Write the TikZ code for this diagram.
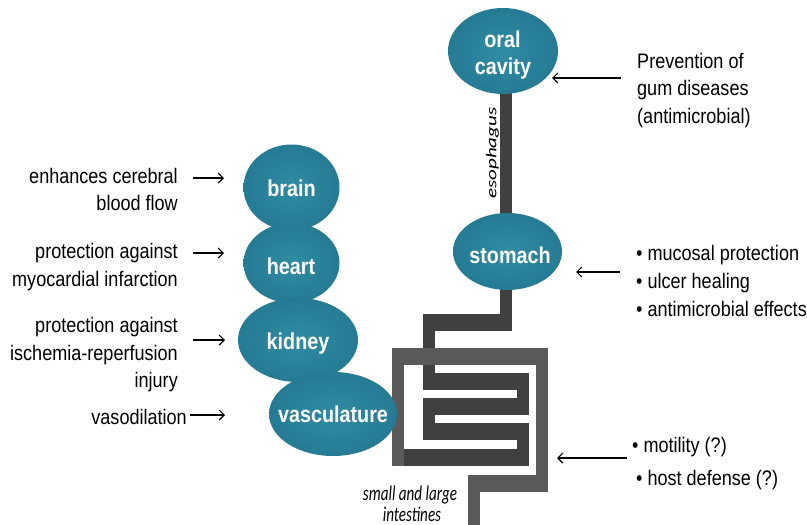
\documentclass[tikz,border=0pt]{standalone}
\usepackage{fontspec}
\usetikzlibrary{arrows.meta,shapes.geometric}
\setmainfont{Liberation Sans}
\newfontfamily\labfont{Liberation Sans}[FakeStretch=0.86]
\newfontfamily\calnar{Carlito}[FakeStretch=0.72]
\newfontfamily\calwide{Carlito}[FakeStretch=1.4]
\definecolor{orgA}{HTML}{2F8CA3}
\definecolor{orgB}{HTML}{257A92}
\definecolor{orgC}{HTML}{1D667B}
\definecolor{orgD}{HTML}{164E5F}
\definecolor{tubedark}{HTML}{404040}
\definecolor{tubegrey}{HTML}{5A5A5A}
\pgfdeclareradialshading{organshade}{\pgfpoint{0bp}{0bp}}{color(0bp)=(orgA); color(26bp)=(orgB); color(42bp)=(orgC); color(50bp)=(orgD); color(72bp)=(orgD)}
\begin{document}
\begin{tikzpicture}[x=1pt,y=-1pt,
  organ/.style={ellipse, shade, shading=organshade, inner sep=0pt, draw=none},
  orgtext/.style={text=white, font=\labfont\bfseries\fontsize{23}{30}\selectfont, inner sep=0pt, anchor=base},
  lableft/.style={font=\labfont\fontsize{21}{28}\selectfont, inner sep=0pt, anchor=base east},
  labright/.style={font=\labfont\fontsize{21}{28}\selectfont, inner sep=0pt, anchor=base west},
  arr/.style={-{Straight Barb[length=5pt,width=10pt]}, line width=1.2pt},
]
\useasboundingbox (0,0) rectangle (807,525);

% ---- digestive tube (dark) ----
\fill[tubedark] (500,90) rectangle (512,225);
\fill[tubedark] (500,280) rectangle (512,331);
\fill[tubedark] (423,314) rectangle (512,331);
\fill[tubedark] (423,314) rectangle (435,390);
\fill[tubedark] (423,373) rectangle (529,390);
\fill[tubedark] (517,373) rectangle (529,415);
\fill[tubedark] (423,398) rectangle (529,415);
\fill[tubedark] (423,398) rectangle (435,440);
\fill[tubedark] (423,423) rectangle (529,440);
\fill[tubedark] (517,423) rectangle (529,466);
\fill[tubedark] (398,449) rectangle (529,466);
% ---- frame (grey) ----
\fill[tubegrey] (392,348) rectangle (404,466);
\fill[tubegrey] (392,348) rectangle (548,365);
\fill[tubegrey] (536,348) rectangle (548,492);
\fill[tubegrey] (468,475) rectangle (548,492);
\fill[tubegrey] (468,475) rectangle (480,525);

% ---- organs ----
\node[organ, minimum width=96pt, minimum height=80pt] (heart) at (291.5,263) {};
\node[organ, minimum width=96pt, minimum height=86pt] (brain) at (291.5,187.5) {};
\node[organ, minimum width=120pt, minimum height=84pt] (kidney) at (298,340) {};
\node[organ, minimum width=128pt, minimum height=84pt] (vasc) at (333,414) {};
\node[organ, minimum width=110pt, minimum height=86pt] (oral) at (503,51) {};
\node[organ, minimum width=109pt, minimum height=77pt] (stomach) at (507.5,251.5) {};

\node[orgtext] (oralt1) at (502.5,47) {oral};
\node[orgtext] (oralt2) at (503,74) {cavity};
\node[orgtext] (stomacht) at (510,263) {stomach};
\node[orgtext] (braint) at (291.5,196) {brain};
\node[orgtext] (heartt) at (291,274) {heart};
\node[orgtext] (kidneyt) at (298,349) {kidney};
\node[orgtext] (vasct) at (333,422) {vasculature};

% ---- tube labels ----
\node[rotate=90, inner sep=0pt, font=\calwide\itshape\fontsize{15}{15}\selectfont] (esolab) at (492.5,153) {esophagus};
\node[inner sep=0pt, anchor=base, font=\calnar\itshape\fontsize{21}{21}\selectfont] (intl1) at (410,500) {small and large};
\node[inner sep=0pt, anchor=base, font=\calnar\itshape\fontsize{21}{21}\selectfont] (intl2) at (412,521) {intestines};

% ---- left texts ----
\node[lableft] (b1) at (178,183) {enhances cerebral};
\node[lableft] (b2) at (178,210) {blood flow};
\node[lableft] (h1) at (178,258) {protection against};
\node[lableft] (h2) at (178,286) {myocardial infarction};
\node[lableft] (k1) at (178,332) {protection against};
\node[lableft] (k2) at (178,360) {ischemia-reperfusion};
\node[lableft] (k3) at (178,387) {injury};
\node[lableft] (v1) at (187,424) {vasodilation};

% ---- right texts ----
\node[labright] (o1) at (637,68) {Prevention of};
\node[labright] (o2) at (637,95) {gum diseases};
\node[labright] (o3) at (637,123) {(antimicrobial)};
\node[labright] (s1) at (636,260) {• mucosal protection};
\node[labright] (s2) at (636,288) {• ulcer healing};
\node[labright] (s3) at (636,316) {• antimicrobial effects};
\node[labright] (i1) at (632,452) {• motility (?)};
\node[labright] (i2) at (636,485) {• host defense (?)};

% ---- arrows ----
\coordinate (ab0) at (193,178); \coordinate (ab1) at (224,178);
\coordinate (ah0) at (193,253); \coordinate (ah1) at (224,253);
\coordinate (ak0) at (193,340); \coordinate (ak1) at (225,340);
\coordinate (av0) at (190,415); \coordinate (av1) at (225,415);
\coordinate (ao0) at (621,78); \coordinate (ao1) at (552,78);
\coordinate (as0) at (620,272); \coordinate (as1) at (576,272);
\coordinate (ai0) at (627,458); \coordinate (ai1) at (557,458);
\draw[arr] (ab0) -- (ab1);
\draw[arr] (ah0) -- (ah1);
\draw[arr] (ak0) -- (ak1);
\draw[arr] (av0) -- (av1);
\draw[arr] (ao0) -- (ao1);
\draw[arr] (as0) -- (as1);
\draw[arr] (ai0) -- (ai1);
\end{tikzpicture}
\end{document}
